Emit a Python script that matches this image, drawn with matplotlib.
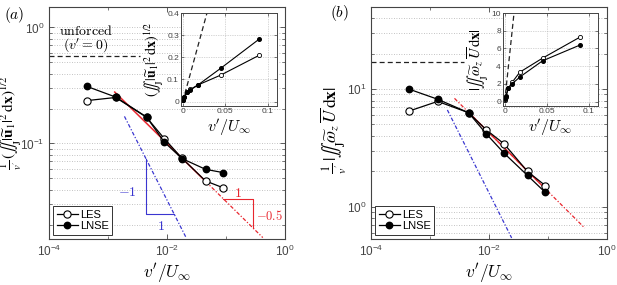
import numpy as np
import matplotlib
matplotlib.use("Agg")
import matplotlib.pyplot as plt
from matplotlib.ticker import FixedLocator, NullFormatter

plt.rcParams['font.family'] = ['Liberation Sans', 'DejaVu Sans']
plt.rcParams['mathtext.fontset'] = 'cm'

# ---------------- data ----------------
v = [4.4e-4, 1.35e-3, 4.5e-3, 9.0e-3, 1.8e-2, 4.5e-2, 9.0e-2]

a_les = [0.234, 0.249, 0.168, 0.110, 0.0744, 0.0475, 0.0414]
a_lnse = [0.310, 0.251, 0.169, 0.1026, 0.0740, 0.0598, 0.0560]

b_les = [6.5, 7.86, 6.3, 4.5, 3.42, 1.99, 1.51]
b_lnse = [10.0, 8.2, 6.3, 4.16, 2.85, 1.84, 1.32]

ia_les = [0.006, 0.019, 0.042, 0.055, 0.075, 0.120, 0.209]
ia_lnse = [0.008, 0.019, 0.043, 0.052, 0.075, 0.151, 0.282]

ib_les = [0.15, 0.57, 1.53, 2.19, 3.32, 4.9, 7.3]
ib_lnse = [0.24, 0.60, 1.53, 2.02, 2.77, 4.6, 6.4]

unforced_a = 0.568
unforced_b = 17.0
inset_slope_a = 14.0
inset_slope_b = 900.0

red_c_a, blue_c_a = 0.01, 3.25e-4
red_c_b, blue_c_b = 0.4256, 0.0131

W, H = 617, 285
fig = plt.figure(figsize=(W / 100, H / 100), dpi=100)


def rect(x0, y0, x1, y1):
    return [x0 / W, 1 - y1 / H, (x1 - x0) / W, (y1 - y0) / H]


FRAME = '#444444'
RED = '#e8262e'
BLUE = '#3a36d0'
GRIDC = '#b0b0b0'


def style_main(ax, ylim, yticks):
    ax.set_xscale('log')
    ax.set_yscale('log')
    ax.set_xlim(1e-4, 1)
    ax.set_ylim(*ylim)
    ax.xaxis.set_major_locator(FixedLocator([1e-4, 1e-2, 1]))
    ax.xaxis.set_minor_locator(FixedLocator([1e-3, 1e-1]))
    ax.xaxis.set_minor_formatter(NullFormatter())
    ax.yaxis.set_major_locator(FixedLocator(yticks))
    mins = []
    for d in range(-3, 3):
        for k in range(2, 10):
            mins.append(k * 10.0 ** d)
    ax.yaxis.set_minor_locator(FixedLocator(mins))
    ax.yaxis.set_minor_formatter(NullFormatter())
    ax.tick_params(which='both', direction='in', top=True, right=True,
                   colors=FRAME, labelcolor='#444444', labelsize=8.5)
    ax.tick_params(which='major', length=3.5, width=0.6)
    ax.tick_params(which='minor', length=2, width=0.5)
    ax.grid(True, axis='y', which='both', linestyle=(0, (1, 2)),
            color=GRIDC, linewidth=0.6)
    for s in ax.spines.values():
        s.set_color(FRAME)
        s.set_linewidth(0.8)
    ax.set_xlabel(r"$v'/U_\infty$", fontsize=12.5, labelpad=2)


def style_inset(ax, xlim, ylim, xt, xtl, yt, ytl):
    ax.set_xlim(*xlim)
    ax.set_ylim(*ylim)
    ax.set_xticks(xt)
    ax.set_xticklabels(xtl)
    ax.set_yticks(yt)
    ax.set_yticklabels(ytl)
    ax.tick_params(direction='in', length=2, width=0.5, top=True, right=True,
                   colors=FRAME, labelcolor='#444444', labelsize=6, pad=1.5)
    ax.grid(True, linestyle=(0, (1, 1.5)), color=GRIDC, linewidth=0.5)
    for s in ax.spines.values():
        s.set_color(FRAME)
        s.set_linewidth(0.7)
    ax.set_xlabel(r"$v'/U_\infty$", fontsize=11.5, labelpad=1)


def plot_series(ax, les, lnse, ms_open, ms_fill, lw=0.9):
    l1, = ax.plot(v, les, '-o', color='black', mfc='white', mec='black',
                  ms=ms_open, lw=lw, mew=0.8, zorder=5)
    l2, = ax.plot(v, lnse, '-o', color='black', mfc='black', mec='black',
                  ms=ms_fill, lw=lw, zorder=5)
    return l1, l2


dashdot = (0, (3, 1.5, 1, 1.5))
II = r"\int\!\!\int_{\mathrm{J}}"
ylab_a = r"$\frac{1}{v'}\,(" + II + r"|\widetilde{\mathbf{u}}_1|^2\,\mathrm{d}\mathbf{x})^{1/2}$"
ylab_b = r"$\frac{1}{v'}\,|" + II + r"\widetilde{\omega}_z\,\overline{U}\,\mathrm{d}\mathbf{x}|$"
ylab_ia = r"$(" + II + r"|\widetilde{\mathbf{u}}_1|^2\,\mathrm{d}\mathbf{x})^{1/2}$"
ylab_ib = r"$|" + II + r"\widetilde{\omega}_z\,\overline{U}\,\mathrm{d}\mathbf{x}|$"

# ---------------- panel (a) ----------------
axa = fig.add_axes(rect(49, 7, 285, 239))
style_main(axa, (0.015, 1.5), [1e-1, 1e0])
xr = np.array([1.3e-3, 4.5e-2])
axa.plot(xr, red_c_a * xr ** -0.5, '-', color=RED, lw=1.1, zorder=3)
xr2 = np.array([4.5e-2, 0.42])
axa.plot(xr2, red_c_a * xr2 ** -0.5, linestyle=dashdot, color=RED, lw=0.9, zorder=3)
xb = np.array([1.9e-3, 2.1e-2])
axa.plot(xb, blue_c_a / xb, linestyle=dashdot, color=BLUE, lw=0.9, zorder=3)
# slope triangles
x0 = 4.4e-3
y0 = blue_c_a / x0
y1 = 0.0245
x1 = blue_c_a / y1
axa.plot([x0, x0, x1], [y0, y1, y1], '-', color=BLUE, lw=0.8)
axa.text(3.0e-3, 0.038, r"$-1$", color=BLUE, fontsize=10, ha='right', va='center')
axa.text(8.0e-3, 0.0195, r"$1$", color=BLUE, fontsize=10, ha='center', va='center')
xa_, xb_ = 0.09, 0.29
ya_ = red_c_a * xa_ ** -0.5
yb_ = red_c_a * xb_ ** -0.5
axa.plot([xa_, xb_, xb_], [ya_, ya_, yb_], '-', color=RED, lw=0.8)
axa.text(0.16, 0.0375, r"$1$", color=RED, fontsize=10, ha='center', va='center')
axa.text(0.32, 0.0235, r"$-0.5$", color=RED, fontsize=9, ha='left', va='center')
# unforced
axa.plot([1e-4, 3.5e-3], [unforced_a, unforced_a], '--', color='#222222', lw=0.9,
         dashes=(4, 2.5))
axa.text(4.2e-4, 0.93, r"$\mathrm{unforced}$", fontsize=10, ha='center', va='center')
axa.text(4.2e-4, 0.70, r"$(v'=0)$", fontsize=10, ha='center', va='center')
la1, la2 = plot_series(axa, a_les, a_lnse, 5.2, 4.6)
axa.set_ylabel(ylab_a, fontsize=11, math_fontfamily='stix')
axa.yaxis.set_label_coords(-0.106, 0.5)
axa.legend([la1, la2], ['LES', 'LNSE'], loc='lower left', fontsize=8,
           handlelength=1.9, handletextpad=0.2, borderpad=0.3, labelspacing=0.15,
           fancybox=False, edgecolor='#333333', framealpha=1,
           borderaxespad=0.4).get_frame().set_linewidth(0.7)

# inset (a)
ia = fig.add_axes(rect(181, 13, 277, 106))
style_inset(ia, (-0.002, 0.111), (-0.02, 0.4), [0, 0.05, 0.1], ['0', '0.05', '0.1'],
            [0, 0.1, 0.2, 0.3, 0.4], ['0', '0.1', '0.2', '0.3', '0.4'])
xi = np.array([0.0, 0.4 / inset_slope_a])
ia.plot(xi, inset_slope_a * xi, '--', color='#222222', lw=0.9, dashes=(4, 2.5))
ia.plot(v, ia_les, '-o', color='black', mfc='white', mec='black', ms=3, lw=0.8, mew=0.6)
ia.plot(v, ia_lnse, '-o', color='black', mfc='black', mec='black', ms=2.6, lw=0.8)
ia.set_ylabel(ylab_ia, fontsize=10, math_fontfamily='stix')
ia.yaxis.set_label_coords(-0.155, 0.5)

# ---------------- panel (b) ----------------
axb = fig.add_axes(rect(371, 7, 607, 239))
style_main(axb, (0.53, 50), [1e0, 1e1])
xr = np.array([2.6e-3, 0.42])
axb.plot(xr, red_c_b * xr ** -0.5, linestyle=dashdot, color=RED, lw=0.9, zorder=3)
xr = np.array([4.5e-3, 9.0e-2])
axb.plot(xr, red_c_b * xr ** -0.5, '-', color=RED, lw=1.0, zorder=3)
xb = np.array([1.97e-3, 2.42e-2])
axb.plot(xb, blue_c_b / xb, linestyle=dashdot, color=BLUE, lw=0.9, zorder=3)
axb.plot([1e-4, 3.8e-3], [unforced_b, unforced_b], '--', color='#222222', lw=0.9,
         dashes=(4, 2.5))
lb1, lb2 = plot_series(axb, b_les, b_lnse, 5.2, 4.6)
axb.set_ylabel(ylab_b, fontsize=12.5, math_fontfamily='stix')
axb.yaxis.set_label_coords(-0.095, 0.47)
axb.legend([lb1, lb2], ['LES', 'LNSE'], loc='lower left', fontsize=8,
           handlelength=1.9, handletextpad=0.2, borderpad=0.3, labelspacing=0.15,
           fancybox=False, edgecolor='#333333', framealpha=1,
           borderaxespad=0.4).get_frame().set_linewidth(0.7)

ib = fig.add_axes(rect(503, 13, 598, 106))
style_inset(ib, (-0.002, 0.111), (-0.5, 10), [0, 0.05, 0.1], ['0', '0.05', '0.1'],
            [0, 2, 4, 6, 8, 10], ['0', '2', '4', '6', '8', '10'])
xi = np.array([0.0, 10 / inset_slope_b])
ib.plot(xi, inset_slope_b * xi, '--', color='#222222', lw=0.9, dashes=(4, 2.5))
ib.plot(v, ib_les, '-o', color='black', mfc='white', mec='black', ms=3, lw=0.8, mew=0.6)
ib.plot(v, ib_lnse, '-o', color='black', mfc='black', mec='black', ms=2.6, lw=0.8)
ib.set_ylabel(ylab_ib, fontsize=10.5, math_fontfamily='stix')
ib.yaxis.set_label_coords(-0.13, 0.5)

fig.text(4 / W, 1 - 15 / H, r"$(a)$", fontsize=11, ha='left', va='center')
fig.text(330 / W, 1 - 13 / H, r"$(b)$", fontsize=11, ha='left', va='center')

fig.savefig('out.png', dpi=100)
